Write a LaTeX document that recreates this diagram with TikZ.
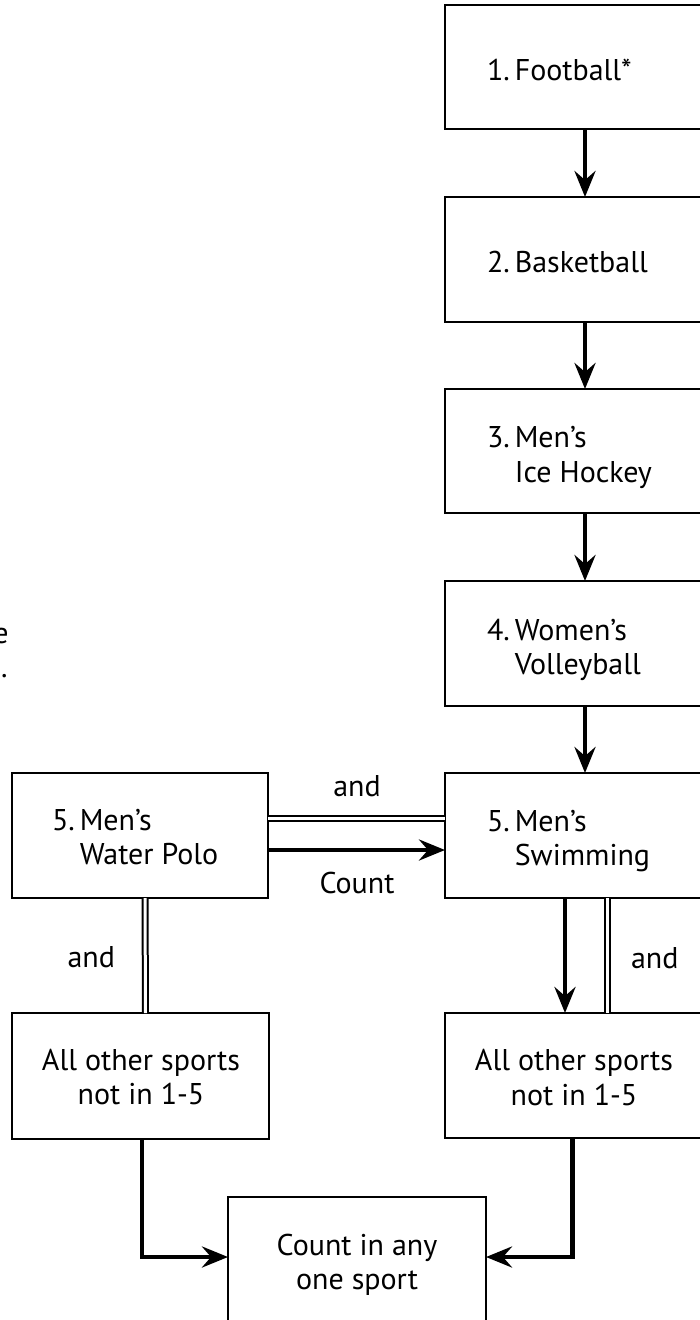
\documentclass[tikz,border=0pt]{standalone}
\usepackage{fontspec}
\setmainfont{PT Sans}
\usetikzlibrary{arrows.meta}
\begin{document}
\begin{tikzpicture}[x=1pt,y=-1pt,
  box/.style={draw,line width=2.5pt,outer sep=0pt,inner sep=0pt,anchor=north west},
  txt/.style={inner sep=0pt,outer sep=0pt,font=\fontsize{30}{34}\selectfont},
  arr/.style={line width=4.5pt,-{Stealth[length=26pt,width=21pt,inset=9pt]}},
  dbl/.style={double,double distance=3pt,line width=2pt}]
\useasboundingbox (0,0) rectangle (699,1320);
% boxes
\node[box,minimum width=258pt,minimum height=124pt] (b1) at (445,5) {};
\node[box,minimum width=258pt,minimum height=125pt] (b2) at (445,197) {};
\node[box,minimum width=258pt,minimum height=124pt] (b3) at (445,389) {};
\node[box,minimum width=258pt,minimum height=125pt] (b4) at (445,581) {};
\node[box,minimum width=258pt,minimum height=125pt] (b5) at (445,773) {};
\node[box,minimum width=256pt,minimum height=125pt] (wp) at (12,773) {};
\node[box,minimum width=257pt,minimum height=126pt] (oL) at (12,1013) {};
\node[box,minimum width=258pt,minimum height=125pt] (oR) at (445,1013) {};
\node[box,minimum width=258pt,minimum height=133pt] (cnt) at (228,1197) {};
% texts
\node[txt,anchor=base west] (t1) at (487,80) {1.\,Football*};
\node[txt,anchor=base west] (t2) at (487,272) {2.\,Basketball};
\node[txt,anchor=base west] (t3a) at (487,447) {3.\,Men’s};
\node[txt,anchor=base west] (t3b) at (t3a.base west) [yshift=-35pt] {\phantom{3.\,}Ice Hockey};
\node[txt,anchor=base west] (t4a) at (487,640) {4.\,Women’s};
\node[txt,anchor=base west] (t4b) at (t4a.base west) [yshift=-34pt] {\phantom{4.\,}Volleyball};
\node[txt,anchor=base west] (t5a) at (487,831) {5.\,Men’s};
\node[txt,anchor=base west] (t5b) at (t5a.base west) [yshift=-34pt] {\phantom{5.\,}Swimming};
\node[txt,anchor=base west] (w5a) at (52,830) {5.\,Men’s};
\node[txt,anchor=base west] (w5b) at (w5a.base west) [yshift=-34pt] {\phantom{5.\,}Water Polo};
\node[txt,anchor=base] (oLa) at (141,1070) {All other sports};
\node[txt,anchor=base] (oLb) at (141,1104) {not in 1-5};
\node[txt,anchor=base] (oRa) at (574,1070) {All other sports};
\node[txt,anchor=base] (oRb) at (574,1105) {not in 1-5};
\node[txt,anchor=base] (ca) at (357,1255) {Count in any};
\node[txt,anchor=base] (cb) at (357,1289) {one sport};
\node[txt,anchor=base] (andT) at (357,796) {and};
\node[txt,anchor=base] (cntL) at (357,893) {Count};
\node[txt,anchor=base east] (andL) at (115,967) {and};
\node[txt,anchor=base west] (andR) at (631,968) {and};
\node[txt,anchor=base east] (fe) at (8.5,643) {e};
\node[txt,anchor=base east] (fd) at (7.5,677) {.};
% connectors
\draw[arr] ([xshift=11pt]b1.south) -- ([xshift=11pt]b2.north);
\draw[arr] ([xshift=11pt]b2.south) -- ([xshift=11pt]b3.north);
\draw[arr] ([xshift=11pt]b3.south) -- ([xshift=11pt]b4.north);
\draw[arr] ([xshift=11pt]b4.south) -- ([xshift=11pt]b5.north);
\draw[dbl] ([yshift=17pt]wp.east) -- ([yshift=17pt]b5.west);
\draw[arr] ([yshift=-14.5pt]wp.east) -- ([yshift=-14.5pt]b5.west);
\draw[dbl] ([xshift=5pt]wp.south) -- ([xshift=5pt]oL.north);
\draw[arr] ([xshift=-9pt]b5.south) -- ([xshift=-9pt]oR.north);
\draw[dbl] ([xshift=33pt]b5.south) -- ([xshift=33pt]oR.north);
\draw[arr] ([xshift=1.5pt]oL.south) |- ([yshift=6.5pt]cnt.west);
\draw[arr] ([xshift=-1.5pt]oR.south) |- ([yshift=6.5pt]cnt.east);
\end{tikzpicture}
\end{document}
